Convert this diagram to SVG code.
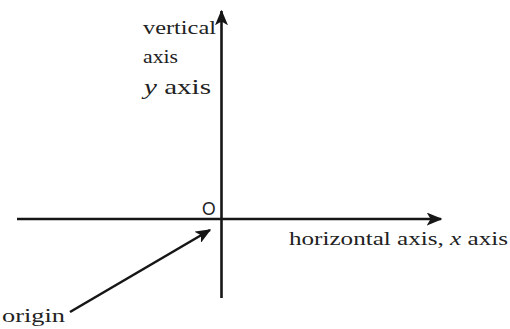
<svg xmlns="http://www.w3.org/2000/svg" width="510" height="329" viewBox="0 0 510 329">
<style>
.ax{stroke:#161616;stroke-width:2.6;fill:none}
.t{font-family:"Liberation Serif",serif;fill:#222}
</style>
<defs>
<marker id="ah" viewBox="0 0 12 10" refX="11" refY="5" markerWidth="6" markerHeight="5" orient="auto" markerUnits="strokeWidth">
<path d="M0,0 L12,5 L0,10 L3,5 Z" fill="#161616"/>
</marker>
</defs>
<g id="connectors">
<line class="ax" x1="221.5" y1="298" x2="221.5" y2="11" marker-end="url(#ah)"/>
<line class="ax" x1="17" y1="219" x2="441" y2="219" marker-end="url(#ah)"/>
<line class="ax" x1="70" y1="312" x2="210" y2="230" marker-end="url(#ah)"/>
</g>
<g id="vertical-label">
<text class="t" x="143" y="34" font-size="18.5" textLength="73" lengthAdjust="spacingAndGlyphs">vertical</text>
<text class="t" x="143" y="63" font-size="18.5" textLength="35" lengthAdjust="spacingAndGlyphs">axis</text>
<text class="t" x="144" y="94" font-size="21.5" textLength="67" lengthAdjust="spacingAndGlyphs"><tspan font-style="italic">y</tspan> axis</text>
</g>
<g id="horizontal-label">
<text class="t" x="289" y="245" font-size="18.5" textLength="219" lengthAdjust="spacingAndGlyphs">horizontal axis, <tspan font-style="italic">x</tspan> axis</text>
</g>
<g id="origin-O">
<text x="202" y="214.5" font-family="Liberation Sans,sans-serif" font-size="17.5" fill="#222">O</text>
</g>
<g id="origin-label">
<text class="t" x="2" y="322" font-size="18.5" textLength="63" lengthAdjust="spacingAndGlyphs">origin</text>
</g>
</svg>
